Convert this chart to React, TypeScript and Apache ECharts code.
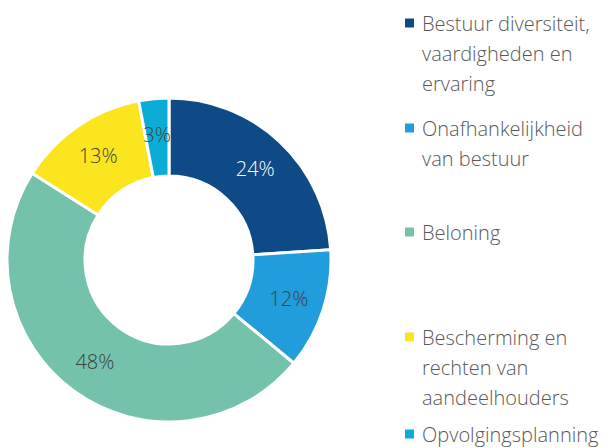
import React, { useEffect, useRef } from "react";
import * as echarts from "echarts";

const categories = [
  "Bestuur diversiteit,\nvaardigheden en\nervaring",
  "Onafhankelijkheid\nvan bestuur",
  "Beloning",
  "Bescherming en\nrechten van\naandeelhouders",
  "Opvolgingsplanning",
];
const values = [24, 12, 48, 13, 3];
const colors = ["#0E4A85", "#219DDB", "#75C2AC", "#FAE51E", "#0BADD6"];
const labelColors = ["#FFFFFF", "#404040", "#404040", "#404040", "#404040"];
const legendIconCenters = [23, 128, 232, 337, 434];

export default function App() {
  const ref = useRef<HTMLDivElement>(null);
  useEffect(() => {
    if (!ref.current) return;
    const chart = echarts.init(ref.current, undefined, { renderer: "svg" });
    const legendGraphics: any[] = [];
    categories.forEach((name, i) => {
      const cy = legendIconCenters[i];
      const n = name.split("\n").length;
      const LH = n > 1 ? 30 : 21;
      legendGraphics.push({
        type: "rect",
        shape: { x: 405, y: cy - 4.5, width: 9, height: 9 },
        style: { fill: colors[i] },
        silent: true,
      });
      legendGraphics.push({
        type: "text",
        x: 422,
        y: cy - LH / 2,
        style: {
          text: name,
          fontFamily: "Open Sans",
          fontWeight: 300,
          fontSize: 20,
          lineHeight: LH,
          fill: "#595959",
          align: "left",
          verticalAlign: "top",
        },
        silent: true,
      });
    });
    chart.setOption({
      animation: false,
      graphic: legendGraphics,
      series: [
        {
          type: "pie",
          center: [169, 260],
          radius: [84, 162],
          startAngle: 90,
          clockwise: true,
          itemStyle: { borderColor: "#FFFFFF", borderWidth: 3 },
          label: {
            position: "inside",
            formatter: "{c}%",
            fontFamily: "Open Sans",
            fontWeight: 300,
            fontSize: 20,
          },
          labelLine: { show: false },
          emphasis: { disabled: true },
          data: categories.map((name, i) => ({
            name,
            value: values[i],
            itemStyle: { color: colors[i] },
            label: { color: labelColors[i] },
          })),
        },
      ],
    });
    return () => chart.dispose();
  }, []);
  return (
    <div
      ref={ref}
      style={{ position: "absolute", left: 0, top: 0, width: 612, height: 448, background: "#FFFFFF" }}
    />
  );
}
